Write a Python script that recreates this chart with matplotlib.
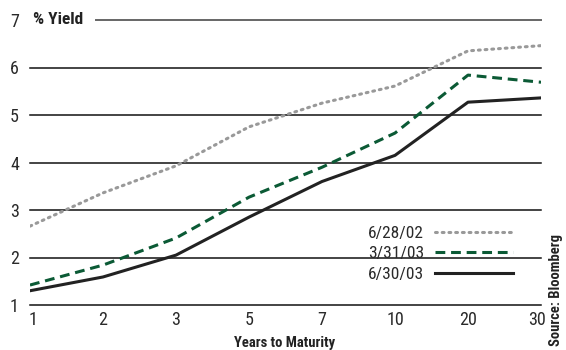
import matplotlib
matplotlib.use("Agg")
import matplotlib.pyplot as plt
from matplotlib import font_manager
from matplotlib.transforms import ScaledTranslation

maturities = ["1", "2", "3", "5", "7", "10", "20", "30"]
yield_020628 = [2.66, 3.36, 3.93, 4.75, 5.25, 5.61, 6.35, 6.46]
yield_030331 = [1.42, 1.84, 2.41, 3.27, 3.90, 4.62, 5.84, 5.69]
yield_030630 = [1.30, 1.59, 2.05, 2.85, 3.60, 4.15, 5.27, 5.36]
labels = ["6/28/02", "3/31/03", "6/30/03"]
yticks = [1, 2, 3, 4, 5, 6, 7]

# pick a narrow face if one is installed
installed = {f.name for f in font_manager.fontManager.ttflist}
narrow = None
for name in ["Liberation Sans Narrow", "Roboto Condensed", "Open Sans Condensed",
             "DejaVu Sans Condensed", "Roboto"]:
    if name in installed:
        narrow = name
        break
plt.rcParams["font.family"] = [narrow or "DejaVu Sans", "DejaVu Sans"]
plt.rcParams["font.stretch"] = "condensed"

fig = plt.figure(figsize=(5.66, 3.5), dpi=100)
ax = fig.add_axes([30 / 566, 45 / 350, 511 / 566, 285 / 350])

x = list(range(len(maturities)))
ax.set_xlim(0, len(maturities) - 1)
ax.set_ylim(1, 7)

# horizontal rules; the top one leaves room for the axis title
for y in yticks[:-1]:
    ax.axhline(y, color="#111111", lw=1.1, clip_on=False, zorder=1)
ax.plot([0.9, 7], [7, 7], color="#666666", lw=1.4, clip_on=False, zorder=1)

ax.plot(x, yield_020628, color="#999999", lw=2.2, ls=(0, (0.6, 1.6)),
        dash_capstyle="round", label=labels[0], zorder=3)
ax.plot(x, yield_030331, color="#0b5a35", lw=2.2, ls=(0, (3.2, 1.9)),
        label=labels[1], zorder=3)
ax.plot(x, yield_030630, color="#222222", lw=2.2, label=labels[2], zorder=3)

for s in ax.spines.values():
    s.set_visible(False)
ax.set_yticks(yticks)
ax.set_yticklabels([str(v) for v in yticks])
ax.set_xticks(x)
ax.set_xticklabels(maturities)
ax.tick_params(length=0, labelsize=13, colors="#2a2a2a")
ax.tick_params(axis="y", pad=8)
ax.tick_params(axis="x", pad=4)

# pull the end labels slightly inward
xl = ax.get_xticklabels()
xl[0].set_transform(xl[0].get_transform() + ScaledTranslation(0.03, 0, fig.dpi_scale_trans))
xl[-1].set_transform(xl[-1].get_transform() + ScaledTranslation(-0.04, 0, fig.dpi_scale_trans))

ax.text(0.04, 7, "% Yield", fontsize=12.5, fontweight="bold", va="center",
        ha="left", color="#222222")
fig.text(285 / 566, 7 / 350, "Years to Maturity", fontsize=10.5,
         fontweight="bold", ha="center", va="center", color="#222222")
fig.text(556 / 566, 60 / 350, "Source: Bloomberg", fontsize=10.5,
         fontweight="bold", rotation=90, ha="center", va="center",
         color="#222222")

leg = ax.legend(loc="lower right", bbox_to_anchor=(0.945, 0.08),
                frameon=False, markerfirst=False, fontsize=12.5,
                borderpad=0, borderaxespad=0,
                handlelength=4.5, handletextpad=0.63, labelspacing=0.32)
for t in leg.get_texts():
    t.set_color("#2a2a2a")

fig.savefig("out.png", dpi=100)
